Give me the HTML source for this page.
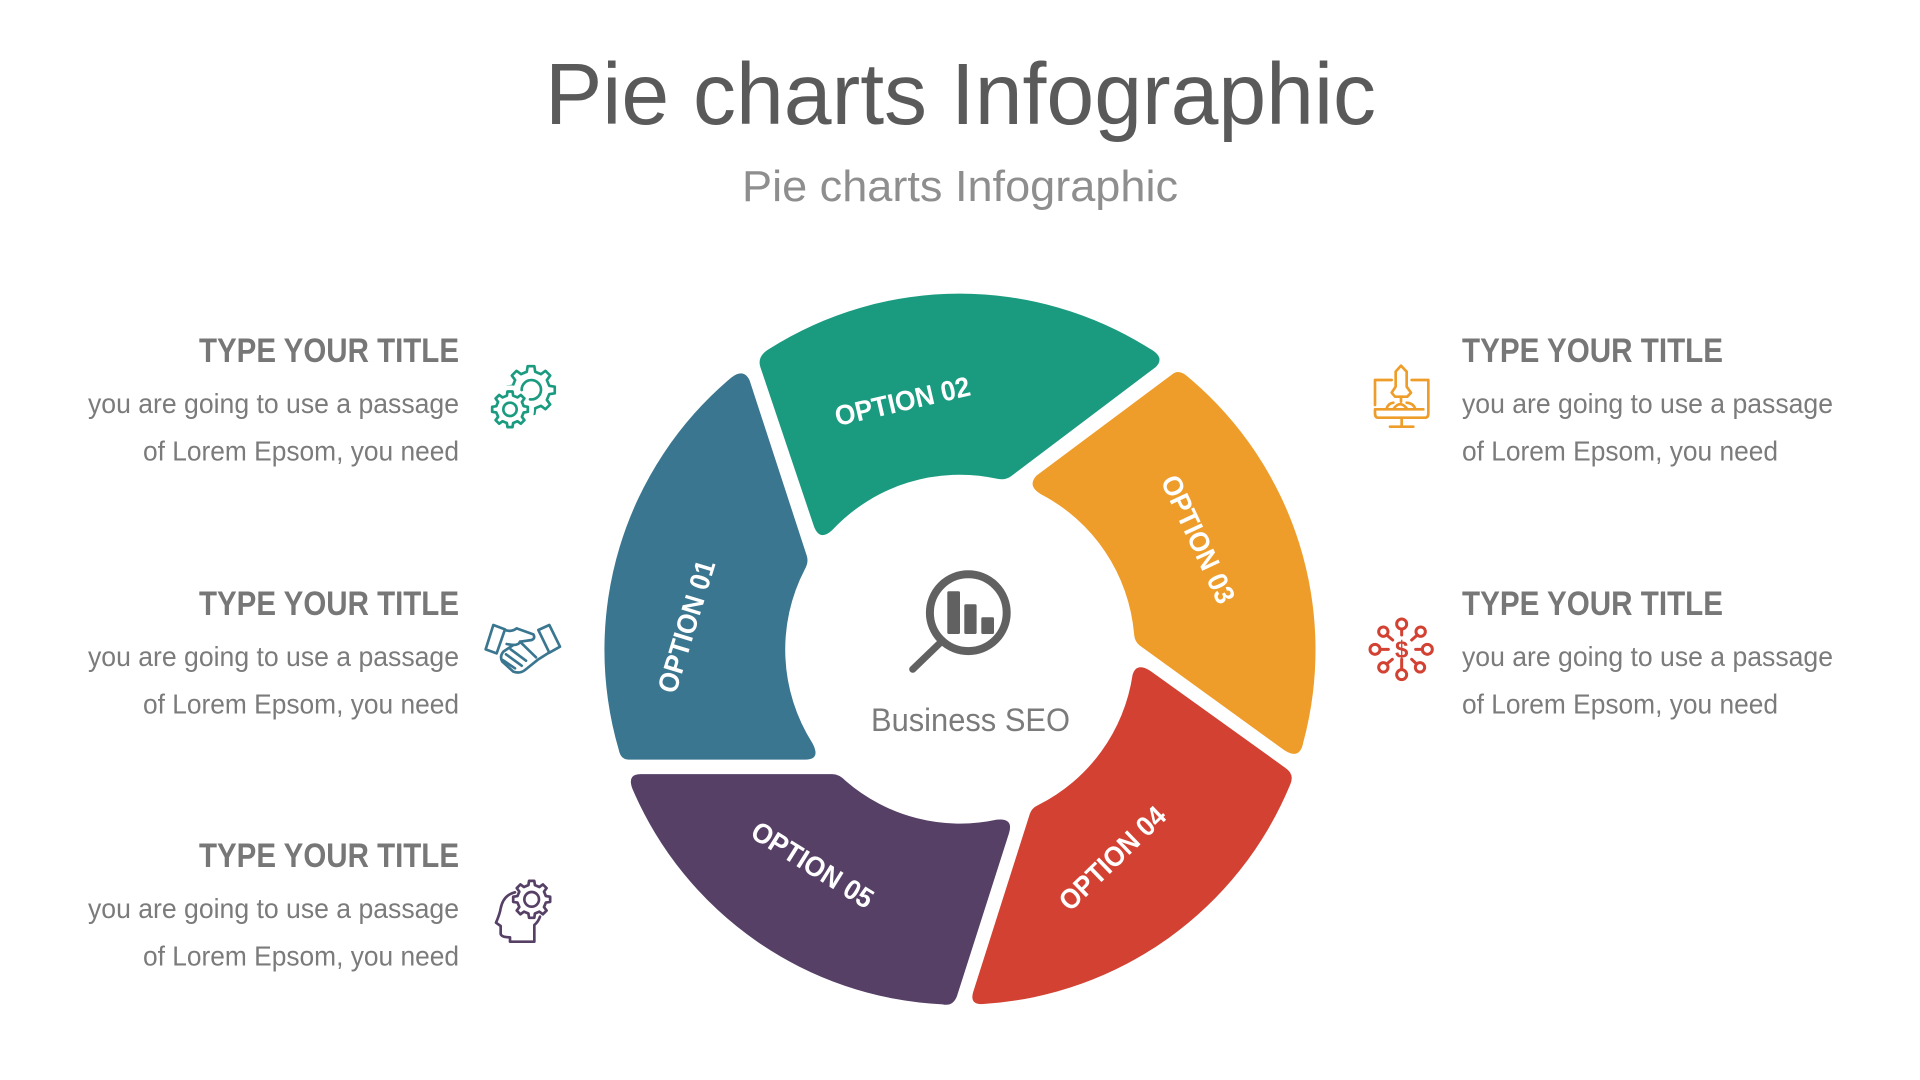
<!DOCTYPE html>
<html><head><meta charset="utf-8"><title>Pie charts Infographic</title>
<style>html,body{margin:0;padding:0;background:#fff;width:1920px;height:1080px;overflow:hidden}svg{display:block}text{font-family:"Liberation Sans",sans-serif}</style>
</head><body>
<svg width="1920" height="1080" viewBox="0 0 1920 1080" xmlns="http://www.w3.org/2000/svg">
<defs>
<polygon id="gear" points="76,-17.5 99,-13.9 99,13.9 76,17.5 66.1,41.3 79.9,60.2 60.2,79.9 41.3,66.1 17.5,76 13.9,99 -13.9,99 -17.5,76 -41.3,66.1 -60.2,79.9 -79.9,60.2 -66.1,41.3 -76,17.5 -99,13.9 -99,-13.9 -76,-17.5 -66.1,-41.3 -79.9,-60.2 -60.2,-79.9 -41.3,-66.1 -17.5,-76 -13.9,-99 13.9,-99 17.5,-76 41.3,-66.1 60.2,-79.9 79.9,-60.2 66.1,-41.3"/>
</defs>
<rect width="1920" height="1080" fill="#fff"/>

<text x="545" y="124" font-size="87" fill="#5a5a5a" textLength="831" lengthAdjust="spacingAndGlyphs">Pie charts Infographic</text>
<text x="742" y="201" font-size="44" fill="#8e8e8e" textLength="436" lengthAdjust="spacingAndGlyphs">Pie charts Infographic</text>

<g transform="translate(580 270) scale(0.48473)">
<path fill="#1a9b80" d="M372 200Q365 178 390 163A734 734 0 0 1 1175 162Q1208 180 1188 200L890 425Q878 434 862 431A360 360 0 0 0 520 537Q495 560 483 530Z"/>
<path fill="#ef9d2a" d="M1222 215Q1236 203 1256 222A734 734 0 0 1 1492 975Q1485 1012 1452 990L1155 775Q1144 767 1143 750A360 360 0 0 0 950 462Q922 445 942 424Z"/>
<path fill="#d24132" d="M1178 828L1455 1027Q1475 1040 1465 1062A734 734 0 0 1 835 1514Q803 1518 811 1490L928 1122Q932 1110 945 1104A360 360 0 0 0 1140 835Q1148 808 1178 828Z"/>
<path fill="#564066" d="M125 1040L520 1040Q535 1040 548 1054A360 360 0 0 0 860 1134Q895 1130 885 1162L778 1497Q770 1520 748 1515A734 734 0 0 1 108 1070Q97 1040 125 1040Z"/>
<path fill="#3a7690" d="M80 990A734 734 0 0 1 312 222Q338 202 350 228L468 590Q472 603 464 617A360 360 0 0 0 480 977Q497 1010 465 1010L100 1010Q84 1010 80 990Z"/>
</g>

<g fill="#fff" font-weight="bold" font-size="28" text-anchor="middle">
<text transform="translate(902.3 400.9) rotate(-13)" y="10" textLength="138" lengthAdjust="spacingAndGlyphs">OPTION 02</text>
<text transform="translate(1198.5 539) rotate(65)" y="10" textLength="138" lengthAdjust="spacingAndGlyphs">OPTION 03</text>
<text transform="translate(1112 858) rotate(-44)" y="10" textLength="136" lengthAdjust="spacingAndGlyphs">OPTION 04</text>
<text transform="translate(812.7 864.5) rotate(32)" y="10" textLength="138" lengthAdjust="spacingAndGlyphs">OPTION 05</text>
<text transform="translate(686 626.3) rotate(-73)" y="10" textLength="137" lengthAdjust="spacingAndGlyphs">OPTION 01</text>
</g>

<circle cx="968.3" cy="612.7" r="38.4" fill="none" stroke="#616161" stroke-width="8"/>
<line x1="940" y1="643" x2="912.7" y2="669.3" stroke="#616161" stroke-width="7" stroke-linecap="round"/>
<g fill="#616161">
<rect x="947.3" y="591.3" width="12.7" height="42.7" rx="1.5"/>
<rect x="964.3" y="604.3" width="12.3" height="29.7" rx="1.5"/>
<rect x="981.3" y="617.3" width="12.7" height="16.7" rx="1.5"/>
</g>
<text x="871" y="731" font-size="32" fill="#7b7b7b" textLength="199" lengthAdjust="spacingAndGlyphs">Business SEO</text>

<g fill="#7b7b7b">
<text x="199" y="362" font-size="34" font-weight="bold" fill="#777" textLength="260" lengthAdjust="spacingAndGlyphs">TYPE YOUR TITLE</text>
<text x="88" y="413" font-size="28" textLength="371" lengthAdjust="spacingAndGlyphs">you are going to use a passage</text>
<text x="143" y="460.5" font-size="28" textLength="316" lengthAdjust="spacingAndGlyphs">of Lorem Epsom, you need</text>

<text x="199" y="615" font-size="34" font-weight="bold" fill="#777" textLength="260" lengthAdjust="spacingAndGlyphs">TYPE YOUR TITLE</text>
<text x="88" y="666" font-size="28" textLength="371" lengthAdjust="spacingAndGlyphs">you are going to use a passage</text>
<text x="143" y="713.5" font-size="28" textLength="316" lengthAdjust="spacingAndGlyphs">of Lorem Epsom, you need</text>

<text x="199" y="867" font-size="34" font-weight="bold" fill="#777" textLength="260" lengthAdjust="spacingAndGlyphs">TYPE YOUR TITLE</text>
<text x="88" y="918" font-size="28" textLength="371" lengthAdjust="spacingAndGlyphs">you are going to use a passage</text>
<text x="143" y="965.5" font-size="28" textLength="316" lengthAdjust="spacingAndGlyphs">of Lorem Epsom, you need</text>

<text x="1462" y="362" font-size="34" font-weight="bold" fill="#777" textLength="261" lengthAdjust="spacingAndGlyphs">TYPE YOUR TITLE</text>
<text x="1462" y="413" font-size="28" textLength="371" lengthAdjust="spacingAndGlyphs">you are going to use a passage</text>
<text x="1462" y="460.5" font-size="28" textLength="316" lengthAdjust="spacingAndGlyphs">of Lorem Epsom, you need</text>

<text x="1462" y="615" font-size="34" font-weight="bold" fill="#777" textLength="261" lengthAdjust="spacingAndGlyphs">TYPE YOUR TITLE</text>
<text x="1462" y="666" font-size="28" textLength="371" lengthAdjust="spacingAndGlyphs">you are going to use a passage</text>
<text x="1462" y="713.5" font-size="28" textLength="316" lengthAdjust="spacingAndGlyphs">of Lorem Epsom, you need</text>
</g>

<!-- gears icon -->
<g transform="translate(470 340) scale(0.33333)" fill="none" stroke="#1a9b80" stroke-width="8" stroke-linecap="round" stroke-linejoin="round">
<use href="#gear" transform="translate(183 150) scale(0.72)" stroke-width="11" fill="none"/>
<circle cx="120" cy="208" r="72" fill="#fff" stroke="none"/>
<use href="#gear" transform="translate(120 208) scale(0.54)" stroke-width="15" fill="#fff"/>
<circle cx="120" cy="208" r="20"/>
<path d="M155 150A29 29 0 1 1 180 178"/>
</g>

<!-- handshake icon -->
<g transform="translate(470 600) scale(0.33333)" fill="none" stroke="#3a7690" stroke-width="8" stroke-linecap="round" stroke-linejoin="round">
<path d="M70 75L105 88L80 160L47 148Z"/>
<path d="M205 90L238 75L270 140L238 158Z"/>
<path d="M105 90Q125 97 140 85L190 103Q197 115 185 120L150 125Q145 140 110 132"/>
<path d="M150 125L198 172"/>
<path d="M237 158L205 178L165 210Q150 222 130 215L97 185Q88 170 100 155L130 135"/>
<path d="M122 148L168 182M108 163L155 197M98 180L135 205"/>
</g>

<!-- head gear icon -->
<g transform="translate(470 860) scale(0.33333)" fill="none" stroke="#564066" stroke-width="8" stroke-linecap="round" stroke-linejoin="round">
<use href="#gear" transform="translate(185 118) scale(0.56)" stroke-width="14.5"/>
<circle cx="185" cy="118" r="22"/>
<path d="M135 97Q100 105 92 145Q90 160 78 188L92 198L92 222Q95 232 120 232L120 245L193 245L193 195Q205 185 210 170"/>
</g>

<!-- rocket icon -->
<g transform="translate(1350 350) scale(0.33333)" fill="none" stroke="#ef9d2a" stroke-width="8" stroke-linecap="round" stroke-linejoin="round">
<path d="M125 90L75 90L75 165M185 90L235 90L235 190Q235 203 225 203L85 203Q75 203 75 190L75 178L220 178"/>
<path d="M155 203L155 230M120 230L190 230"/>
<path d="M153 47L137 65L137 110L125 128L135 140L172 140L183 128L170 110L170 65Z"/>
<path d="M153 140L153 155"/>
<path d="M110 175Q115 160 130 158M132 175Q150 150 170 175M170 158Q190 160 195 175"/>
</g>

<!-- network dollar icon -->
<g transform="translate(1350 600) scale(0.33333)" fill="none" stroke="#d24132" stroke-width="9" stroke-linecap="round">
<circle cx="155" cy="72" r="15"/><path d="M155 87L155 105"/>
<circle cx="155" cy="224" r="15"/><path d="M155 178L155 209"/>
<circle cx="75" cy="148" r="15"/><path d="M90 148L115 148"/>
<circle cx="232" cy="148" r="15"/><path d="M197 148L217 148"/>
<circle cx="100" cy="95" r="14"/><path d="M110 105L128 120"/>
<circle cx="212" cy="95" r="14"/><path d="M202 105L185 120"/>
<circle cx="100" cy="202" r="14"/><path d="M110 192L127 178"/>
<circle cx="210" cy="202" r="14"/><path d="M200 192L185 178"/>
<text x="155" y="173" font-size="72" text-anchor="middle" fill="#d24132" stroke="none" font-weight="bold">$</text>
</g>
</svg>
</body></html>
